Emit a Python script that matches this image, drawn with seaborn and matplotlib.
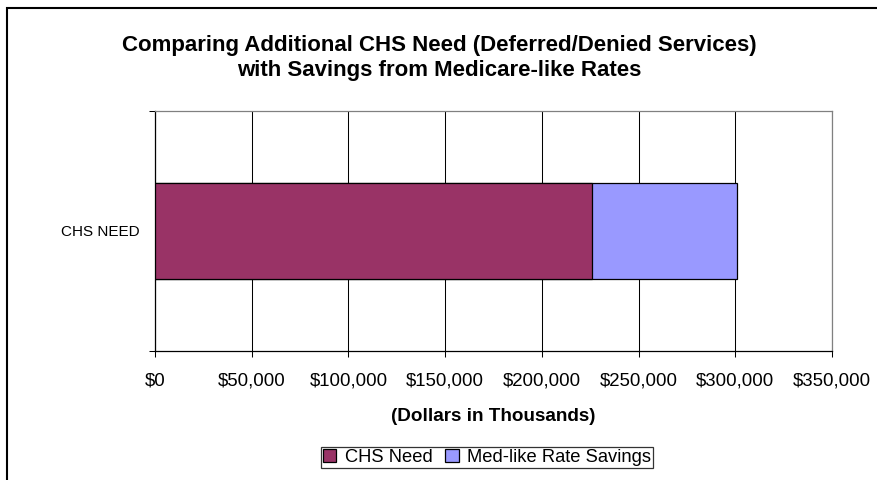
import matplotlib
matplotlib.use("Agg")
import matplotlib.pyplot as plt
import matplotlib.ticker as mticker
import numpy as np
import pandas as pd
import seaborn as sns
from matplotlib.patches import Patch, Rectangle

# values (dollars in thousands)
category = ["CHS NEED"]
chs_need = [226000]
med_like_savings = [75000]
series_names = ["CHS Need", "Med-like Rate Savings"]
x_ticks = [0, 50000, 100000, 150000, 200000, 250000, 300000, 350000]
title_lines = ["Comparing Additional CHS Need (Deferred/Denied Services)",
               "with Savings from Medicare-like Rates"]

need_color = "#993366"
savings_color = "#9999FF"

sns.set_theme(style="white")
plt.rcParams["font.family"] = ["Liberation Sans", "DejaVu Sans"]
plt.rcParams.update({"text.color": "black", "axes.labelcolor": "black",
                     "xtick.color": "black", "ytick.color": "black"})

df = pd.DataFrame({
    "category": category,
    "need": chs_need,
    "total": np.array(chs_need) + np.array(med_like_savings),
})

fig = plt.figure(figsize=(8.78, 4.8), dpi=100)
ax = fig.add_axes([155 / 878, 1 - 350.7 / 480, 677 / 878, 239.7 / 480])

# stacked bar: draw the total first, then the need segment on top of it
sns.barplot(data=df, x="total", y="category", orient="h", color=savings_color,
            width=0.4, edgecolor="black", linewidth=0.9, saturation=1, ax=ax, zorder=3)
sns.barplot(data=df, x="need", y="category", orient="h", color=need_color,
            width=0.4, edgecolor="black", linewidth=0.9, saturation=1, ax=ax, zorder=4)

ax.set_xlim(0, 350000)
ax.set_ylim(0.5, -0.5)
ax.set_xticks(x_ticks)
ax.xaxis.set_major_formatter(mticker.FuncFormatter(lambda v, p: f"${v:,.0f}"))
ax.grid(axis="x", color="black", linewidth=0.75, zorder=0)
ax.set_axisbelow(True)

ax.tick_params(axis="x", direction="out", length=4.5, width=0.75, color="black",
               labelcolor="black", labelsize=13.4, pad=11, bottom=True)
ax.set_yticks([0], category)
ax.set_yticks([-0.5, 0.5], minor=True)
ax.tick_params(axis="y", which="major", length=0, labelsize=11, labelcolor="black",
               pad=11, left=True)
ax.tick_params(axis="y", which="minor", direction="out", length=4, width=0.75,
               color="black", left=True)

for side in ["left", "bottom"]:
    ax.spines[side].set_color("black")
    ax.spines[side].set_linewidth(0.9)
for side in ["top", "right"]:
    ax.spines[side].set_color("#808080")
    ax.spines[side].set_linewidth(0.9)

ax.set_ylabel("")
ax.set_xlabel("(Dollars in Thousands)", fontsize=13.6, fontweight="bold", color="black")
ax.xaxis.set_label_coords(0.5, -(416.7 - 350.7) / 239.7)
ax.xaxis.label.set_va("center")

fig.text(0.5, 1 - 51 / 480, title_lines[0], ha="center", va="baseline",
         fontsize=16, fontweight="bold", color="black")
fig.text(0.5, 1 - 76 / 480, title_lines[1], ha="center", va="baseline",
         fontsize=16, fontweight="bold", color="black")

handles = [Patch(facecolor=need_color, edgecolor="black", linewidth=0.9),
           Patch(facecolor=savings_color, edgecolor="black", linewidth=0.9)]
leg = fig.legend(handles, series_names, loc="center", bbox_to_anchor=(487 / 878, 1 - 457.5 / 480),
                 ncol=2, fontsize=13.2, frameon=True, fancybox=False, handlelength=0.75,
                 handleheight=0.7, handletextpad=0.45, columnspacing=0.7, borderpad=0.12,
                 borderaxespad=0, labelcolor="black")
leg.get_frame().set_edgecolor("black")
leg.get_frame().set_linewidth(0.9)

# outer chart frame (right and bottom edges fall outside the picture)
fig.add_artist(Rectangle((7 / 878, -0.05), 1.2, 1 - 7.5 / 480 + 0.05, transform=fig.transFigure,
                         fill=False, edgecolor="black", linewidth=1.5))

fig.savefig("out.png", dpi=100, facecolor="white")
